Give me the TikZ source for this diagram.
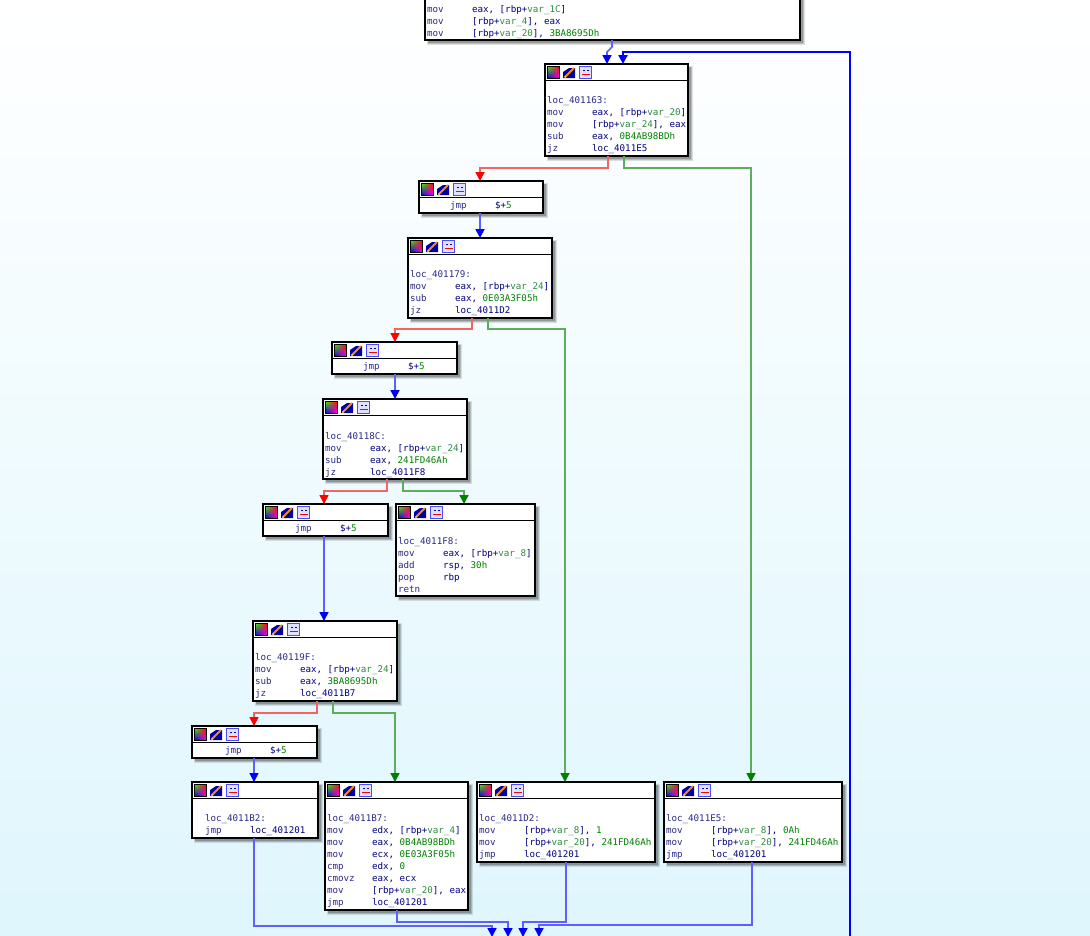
\documentclass[tikz,border=0pt]{standalone}
\usepackage{fontspec}
\usetikzlibrary{arrows.meta,shadings}
\newfontfamily\asmfont{DejaVu Sans Mono}
\definecolor{bgc}{HTML}{DFF6FD}
\definecolor{navyc}{HTML}{000080}
\definecolor{mnc}{HTML}{2A2A86}
\definecolor{numc}{HTML}{008000}
\definecolor{varc}{HTML}{2E8A3E}
\definecolor{bluel}{HTML}{5F5FFF}
\definecolor{redl}{HTML}{F46464}
\definecolor{greenl}{HTML}{5CAE5C}
\definecolor{greend}{HTML}{008000}
\newcommand\ins[2]{\makebox[45pt][l]{\textcolor{mnc}{#1}}#2}
\newcommand\gn[1]{\textcolor{numc}{#1}}
\newcommand\vr[1]{[rbp+\textcolor{varc}{var\_#1}]}
\newcommand\lbl[1]{\textcolor{mnc}{#1}}
\newcommand\idaicons[2]{%
 \begin{scope}[shift={(#1,#2)}]
  \shade[upper left=green!80!yellow, upper right=red, lower left=blue!80!black, lower right=magenta] (2,2) rectangle (14,14);
  \draw[black, line width=0.6pt] (2,2) rectangle (14,14);
  \fill[white] (18,2) rectangle (30,14);
  \fill[blue!65!black] (18,14) -- (18,8) -- (24,4) -- (30,4) -- (30,14) -- cycle;
  \draw[orange!90!yellow, line width=2pt] (20,13) -- (29,4);
  \fill[yellow] (20,13) circle (1);
  \fill[blue!12] (34,2) rectangle (46,14);
  \draw[blue!70, line width=0.7pt] (34,2) rectangle (46,14);
  \draw[red, line width=1.3pt] (37,10.5) -- (45,10.5);
  \draw[blue!70!black, line width=1pt] (38,6) -- (40,6) (42,6) -- (44,6);
 \end{scope}}
\newcommand\shadowbox[4]{%
 \fill[black,opacity=0.12] (#1+2,#2+2) rectangle ++(#3+3,#4+3);
 \fill[black,opacity=0.15] (#1+3,#2+3) rectangle ++(#3+1,#4+1);
 \fill[black,opacity=0.2] (#1+3,#2+3) rectangle ++(#3,#4);}
\newcommand\mkbox[5]{%
 \shadowbox{#2}{#3}{#4}{#5}
 \node[idabox, minimum width=#4pt, minimum height=#5pt, anchor=north west] (#1) at (#2,#3) {};
 \draw[line width=0.9pt] (#2,#3+16) -- ++(#4,0);
 \idaicons{#2}{#3}}
\tikzset{
 idabox/.style={draw=black, fill=white, line width=1.1pt, inner sep=0pt, outer sep=0pt},
 asm/.style={anchor=base west, inner sep=0pt, outer sep=0pt, text=navyc, font=\asmfont\fontsize{9.2}{12}\selectfont},
 eb/.style={draw=bluel, line width=1.7pt, -{Triangle[width=9pt,length=9pt,color=blue]}},
 er/.style={draw=redl, line width=1.7pt, -{Triangle[width=9pt,length=9pt,color=red]}},
 eg/.style={draw=greenl, line width=1.7pt, -{Triangle[width=9pt,length=9pt,color=greend]}},
 eloop/.style={draw=blue, line width=2.2pt, -{Triangle[width=9pt,length=9pt,color=blue]}}
}
\begin{document}
\begin{tikzpicture}[x=1pt,y=-1pt]
\useasboundingbox (0,0) rectangle (1090,935);
\shade[top color=white, bottom color=bgc] (0,0) rectangle (1090,935);
\clip (0,0) rectangle (1090,935);
% top (partly visible) block
\shadowbox{425}{-30}{375}{70}
\node[idabox, minimum width=375pt, minimum height=70pt, anchor=south west] (btop) at (425,40) {};
\node[asm] (btop1) at (427,12.5) {\ins{mov}{eax, \vr{1C}}};
\node[asm] (btop2) at (427,24.5) {\ins{mov}{\vr{4}, eax}};
\node[asm] (btop3) at (427,36) {\ins{mov}{\vr{20}, \gn{3BA8695Dh}}};
% blocks
\mkbox{b163}{545}{64}{143}{92}
\node[asm] (b163a) at (547,103.5) {\lbl{loc\_401163:}};
\node[asm] (b163b) at (547,115.5) {\ins{mov}{eax, \vr{20}}};
\node[asm] (b163c) at (547,127.5) {\ins{mov}{\vr{24}, eax}};
\node[asm] (b163d) at (547,139.5) {\ins{sub}{eax, \gn{0B4AB98BDh}}};
\node[asm] (b163e) at (547,151.5) {\ins{jz}{loc\_4011E5}};
\mkbox{j1}{419}{181}{124}{32}
\node[asm] (j1a) at (450,208.5) {\ins{jmp}{\$+\gn{5}}};
\mkbox{b179}{408}{238}{144}{80}
\node[asm] (b179a) at (410,277.5) {\lbl{loc\_401179:}};
\node[asm] (b179b) at (410,289.5) {\ins{mov}{eax, \vr{24}}};
\node[asm] (b179c) at (410,301.5) {\ins{sub}{eax, \gn{0E03A3F05h}}};
\node[asm] (b179d) at (410,313.5) {\ins{jz}{loc\_4011D2}};
\mkbox{j2}{332}{342}{125}{32}
\node[asm] (j2a) at (363,369.5) {\ins{jmp}{\$+\gn{5}}};
\mkbox{b18C}{323}{399}{144}{80}
\node[asm] (b18Ca) at (325,439.5) {\lbl{loc\_40118C:}};
\node[asm] (b18Cb) at (325,451.5) {\ins{mov}{eax, \vr{24}}};
\node[asm] (b18Cc) at (325,463.5) {\ins{sub}{eax, \gn{241FD46Ah}}};
\node[asm] (b18Cd) at (325,475.5) {\ins{jz}{loc\_4011F8}};
\mkbox{j3}{263}{504}{125}{32}
\node[asm] (j3a) at (295,531.5) {\ins{jmp}{\$+\gn{5}}};
\mkbox{bF8}{396}{504}{139}{92}
\node[asm] (bF8a) at (398,544.5) {\lbl{loc\_4011F8:}};
\node[asm] (bF8b) at (398,556.5) {\ins{mov}{eax, \vr{8}}};
\node[asm] (bF8c) at (398,568.5) {\ins{add}{rsp, \gn{30h}}};
\node[asm] (bF8d) at (398,580.5) {\ins{pop}{rbp}};
\node[asm] (bF8e) at (398,592) {\ins{retn}{}};
\mkbox{b19F}{253}{621}{144}{80}
\node[asm] (b19Fa) at (255,660.5) {\lbl{loc\_40119F:}};
\node[asm] (b19Fb) at (255,672.5) {\ins{mov}{eax, \vr{24}}};
\node[asm] (b19Fc) at (255,684.5) {\ins{sub}{eax, \gn{3BA8695Dh}}};
\node[asm] (b19Fd) at (255,696.5) {\ins{jz}{loc\_4011B7}};
\mkbox{j4}{192}{726}{125}{32}
\node[asm] (j4a) at (225,753.5) {\ins{jmp}{\$+\gn{5}}};
\mkbox{bB2}{192}{782}{126}{56}
\node[asm] (bB2a) at (205,821.5) {\lbl{loc\_4011B2:}};
\node[asm] (bB2b) at (205,833.5) {\ins{jmp}{loc\_401201}};
\mkbox{bB7}{325}{782}{143}{128}
\node[asm] (bB7a) at (327,821.5) {\lbl{loc\_4011B7:}};
\node[asm] (bB7b) at (327,833.5) {\ins{mov}{edx, \vr{4}}};
\node[asm] (bB7c) at (327,845.5) {\ins{mov}{eax, \gn{0B4AB98BDh}}};
\node[asm] (bB7d) at (327,857.5) {\ins{mov}{ecx, \gn{0E03A3F05h}}};
\node[asm] (bB7e) at (327,869.5) {\ins{cmp}{edx, \gn{0}}};
\node[asm] (bB7f) at (327,881.5) {\ins{cmovz}{eax, ecx}};
\node[asm] (bB7g) at (327,893.5) {\ins{mov}{\vr{20}, eax}};
\node[asm] (bB7h) at (327,905.5) {\ins{jmp}{loc\_401201}};
\mkbox{bD2}{477}{782}{178}{80}
\node[asm] (bD2a) at (479,821.5) {\lbl{loc\_4011D2:}};
\node[asm] (bD2b) at (479,833.5) {\ins{mov}{\vr{8}, \gn{1}}};
\node[asm] (bD2c) at (479,845.5) {\ins{mov}{\vr{20}, \gn{241FD46Ah}}};
\node[asm] (bD2d) at (479,857.5) {\ins{jmp}{loc\_401201}};
\mkbox{bE5}{664}{782}{178}{80}
\node[asm] (bE5a) at (666,821.5) {\lbl{loc\_4011E5:}};
\node[asm] (bE5b) at (666,833.5) {\ins{mov}{\vr{8}, \gn{0Ah}}};
\node[asm] (bE5c) at (666,845.5) {\ins{mov}{\vr{20}, \gn{241FD46Ah}}};
\node[asm] (bE5d) at (666,857.5) {\ins{jmp}{loc\_401201}};
% free ends
\coordinate (loopsrc) at (850,945);
\coordinate (o1) at (492,937);
\coordinate (o2) at (508,937);
\coordinate (o3) at (523,937);
\coordinate (o4) at (539,937);
% edges
\draw[eb] ([xshift=187pt]btop.south west) -- ++(0,7) -- ++(-5,5) -- ([xshift=62pt]b163.north west);
\draw[eloop] (loopsrc) |- ([xshift=78pt,yshift=12pt]b163.north west) -- ([xshift=78pt]b163.north west);
\draw[er] ([xshift=63pt]b163.south west) -- ++(0,12) -| ([xshift=61pt]j1.north west);
\draw[eg] ([xshift=79pt]b163.south west) -- ++(0,12) -| ([xshift=87pt]bE5.north west);
\draw[eb] ([xshift=61pt]j1.south west) -- ([xshift=72pt]b179.north west);
\draw[er] ([xshift=64pt]b179.south west) -- ++(0,11) -| ([xshift=63pt]j2.north west);
\draw[eg] ([xshift=80pt]b179.south west) -- ++(0,11) -| ([xshift=88pt]bD2.north west);
\draw[eb] ([xshift=63pt]j2.south west) -- ([xshift=72pt]b18C.north west);
\draw[er] ([xshift=64pt]b18C.south west) -- ++(0,12) -| ([xshift=61pt]j3.north west);
\draw[eg] ([xshift=80pt]b18C.south west) -- ++(0,12) -| ([xshift=68pt]bF8.north west);
\draw[eb] ([xshift=61pt]j3.south west) -- ([xshift=71pt]b19F.north west);
\draw[er] ([xshift=64pt]b19F.south west) -- ++(0,12) -| ([xshift=62pt]j4.north west);
\draw[eg] ([xshift=80pt]b19F.south west) -- ++(0,12) -| ([xshift=70pt]bB7.north west);
\draw[eb] ([xshift=62pt]j4.south west) -- ([xshift=62pt]bB2.north west);
\draw[eb] ([xshift=62pt]bB2.south west) -- ++(0,88) -| (o1);
\draw[eb] ([xshift=72pt]bB7.south west) -- ++(0,12) -| (o2);
\draw[eb] ([xshift=89pt]bD2.south west) -- ++(0,60) -| (o3);
\draw[eb] ([xshift=88pt]bE5.south west) -- ++(0,63) -| (o4);
\end{tikzpicture}
\end{document}
